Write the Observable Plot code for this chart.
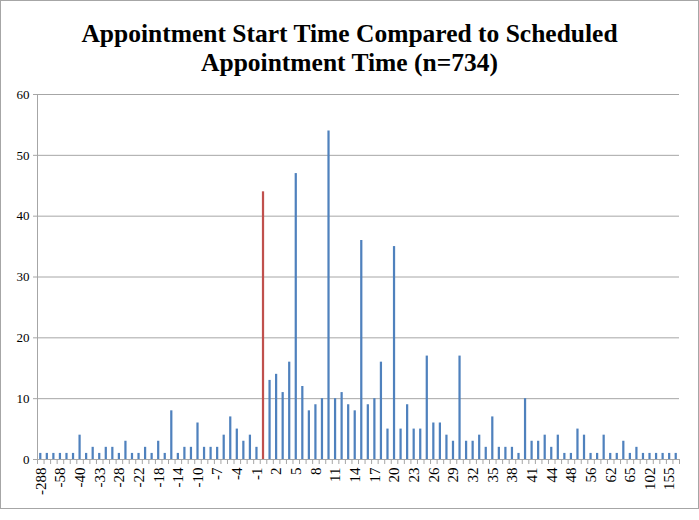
<!DOCTYPE html>
<html>
<head>
<meta charset="utf-8">
<script src="https://cdn.jsdelivr.net/npm/d3@7"></script>
<script src="https://cdn.jsdelivr.net/npm/@observablehq/plot@0.6"></script>
<style>
  html, body { margin: 0; padding: 0; background: #fff; }
  #wrap { position: relative; width: 699px; height: 520px; }
  #border { position: absolute; left: 0; top: 0; width: 699px; height: 509px; box-sizing: border-box; border: 1px solid #a6a6a6; pointer-events: none; }
  #wrap svg text { font-family: 'Liberation Serif', serif !important; }
  #wrap svg .ylab text { font-size: 13px !important; }
  #wrap svg .xlab text { font-size: 15px !important; }
</style>
</head>
<body>
<div id="wrap"><div id="border"></div></div>
<script>
// Minutes relative to scheduled time (category labels)
const categories = [
  "-288","-120","-75","-58","-50","-45","-40","-38","-35","-33",
  "-31","-30","-28","-26","-24","-22","-20","-19","-18","-16",
  "-15","-14","-12","-11","-10","-9","-8","-7","-6","-5",
  "-4","-3","-2","-1","0","1","2","3","4","5",
  "6","7","8","9","10","11","12","13","14","15",
  "16","17","18","19","20","21","22","23","24","25",
  "26","27","28","29","30","31","32","33","34","35",
  "36","37","38","39","40","41","42","43","44","45",
  "46","48","50","53","56","58","60","62","63","64",
  "65","70","85","102","115","130","155","240"
];
// Number of appointments per category
const counts = [
  1,1,1,1,1,1,4,1,2,1,
  2,2,1,3,1,1,2,1,3,1,
  8,1,2,2,6,2,2,2,4,7,
  5,3,4,2,44,13,14,11,16,47,
  12,8,9,10,54,10,11,9,8,36,
  9,10,16,5,35,5,9,5,5,17,
  6,6,4,3,17,3,3,4,2,7,
  2,2,2,1,10,3,3,4,2,4,
  1,1,5,4,1,1,4,1,1,3,
  1,2,1,1,1,1,1,1
];
const highlight = "0";
const yTicks = [0, 10, 20, 30, 40, 50, 60];
const labeledTicks = categories.filter((d, i) => i % 3 === 0);
const titleText = "Appointment Start Time Compared to Scheduled\nAppointment Time (n=734)";

const data = categories.map((c, i) => ({cat: c, count: counts[i]}));

const W = 699, H = 520, mL = 37, mR = 20, mT = 94, mB = 61;
const step = (W - mL - mR) / categories.length;
const gray = "#a6a6a6";
const blue = "#4f81bd", red = "#c0504d";
const font = "'Liberation Serif', serif";

const chart = Plot.plot({
  width: W, height: H,
  marginLeft: mL, marginRight: mR, marginTop: mT, marginBottom: mB,
  style: {fontFamily: font, fontSize: "13px", background: "transparent", color: "#000"},
  x: {domain: categories, paddingInner: 0.66, paddingOuter: 0.33, label: null, axis: null},
  y: {domain: [0, 60], label: null, axis: null},
  marks: [
    Plot.gridY(yTicks, {stroke: gray, strokeOpacity: 1, strokeWidth: 1}),
    Plot.ruleX([categories[0]], {dx: -step / 2, stroke: gray}),
    Plot.ruleY([0], {stroke: gray}),
    Plot.barY(data.filter(d => d.cat !== highlight), {x: "cat", y: "count", fill: blue}),
    Plot.barY(data.filter(d => d.cat === highlight), {x: "cat", y: "count", fill: red}),
    Plot.axisY({ticks: yTicks, tickSize: 4, tickPadding: 4, stroke: gray, fill: "#000", fontSize: 13, label: null, className: "ylab"}),
    Plot.axisX({ticks: labeledTicks, tickRotate: -90, tickSize: 0, tickPadding: 8, fill: "#000", fontSize: 15, label: null, className: "xlab"}),
    Plot.axisX({ticks: categories, tickSize: 5, dx: -step / 2, stroke: gray, tickFormat: () => "", label: null}),
    Plot.axisX({ticks: [categories[categories.length - 1]], tickSize: 5, dx: step / 2, stroke: gray, tickFormat: () => "", label: null}),
    Plot.text([titleText], {frameAnchor: "top", lineAnchor: "middle", dy: -47, dx: -9, fontSize: 25.5, fontWeight: "bold", lineHeight: 1.1, fill: "#000"})
  ]
});
document.getElementById("wrap").prepend(chart);
</script>
</body>
</html>
